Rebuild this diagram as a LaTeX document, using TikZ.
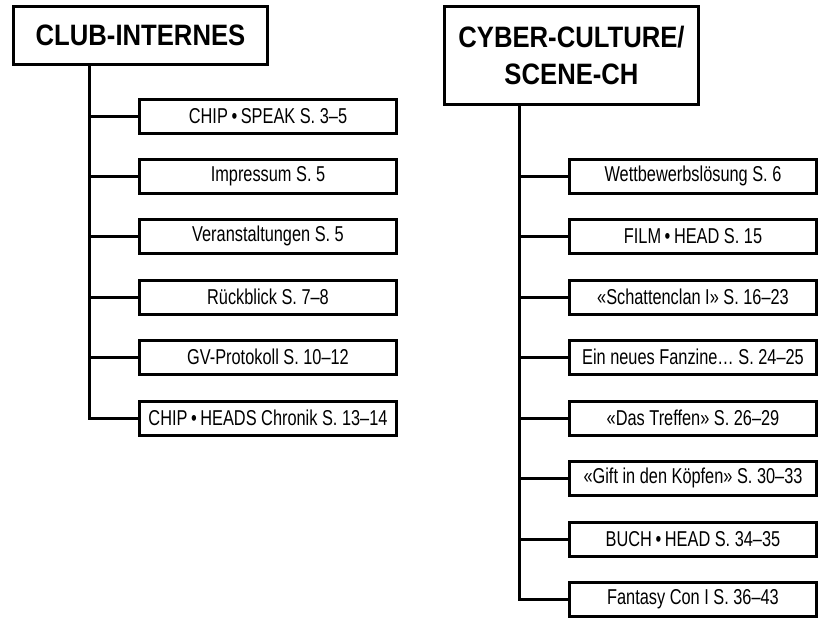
\documentclass[tikz,border=0pt]{standalone}
\usepackage{fontspec}
\setmainfont{Liberation Sans}[FakeStretch=0.76]
\newfontfamily\hdfont{Liberation Sans}[FakeStretch=0.87]
\begin{document}
\begin{tikzpicture}[x=1pt,y=-1pt,
  head/.style={draw, line width=3.5pt, minimum width=254pt, inner sep=0pt,
    font=\hdfont\bfseries\fontsize{29.5}{37}\selectfont, align=center},
  item/.style={draw, line width=3pt, minimum height=34pt, inner sep=0pt,
    font=\fontsize{21.5}{23}\selectfont},
  litem/.style={item, minimum width=257pt},
  ritem/.style={item, minimum width=247pt},
  conn/.style={line width=3pt, line join=miter}]
\useasboundingbox (0,0) rectangle (821,619);
% left column
\node[head, minimum height=58pt] (hl) at (140.5,35.5) {CLUB-INTERNES};
\node[litem] (l1) at (268,116) {CHIP\,•\,SPEAK S. 3–5};
\node[litem] (l2) at (268,176) {Impressum S. 5};
\node[litem] (l3) at (268,236) {Veranstaltungen S. 5};
\node[litem] (l4) at (268,297) {Rückblick S. 7–8};
\node[litem] (l5) at (268,357) {GV-Protokoll S. 10–12};
\node[litem] (l6) at (268,418) {CHIP\,•\,HEADS Chronik S. 13–14};
\coordinate (lt) at (89,418);
\draw[conn] (hl.south -| lt) |- (l6.west);
\foreach \n in {l1,l2,l3,l4,l5} \draw[conn] (\n.west -| lt) -- (\n.west);
% right column
\node[head, minimum height=98pt] (hr) at (571.5,55.5) {CYBER-CULTURE/\\SCENE-CH};
\node[ritem] (r1) at (693,176) {Wettbewerbslösung S. 6};
\node[ritem] (r2) at (693,236) {FILM\,•\,HEAD S. 15};
\node[ritem] (r3) at (693,297) {«Schattenclan I» S. 16–23};
\node[ritem] (r4) at (693,357) {Ein neues Fanzine… S. 24–25};
\node[ritem] (r5) at (693,418) {«Das Treffen» S. 26–29};
\node[ritem] (r6) at (693,478) {«Gift in den Köpfen» S. 30–33};
\node[ritem] (r7) at (693,539) {BUCH\,•\,HEAD S. 34–35};
\node[ritem] (r8) at (693,599) {Fantasy Con I S. 36–43};
\coordinate (rt) at (519,599);
\draw[conn] (hr.south -| rt) |- (r8.west);
\foreach \n in {r1,r2,r3,r4,r5,r6,r7} \draw[conn] (\n.west -| rt) -- (\n.west);
\end{tikzpicture}
\end{document}
